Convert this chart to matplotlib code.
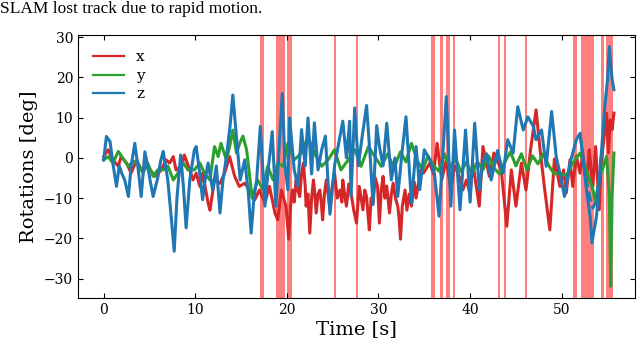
import matplotlib
matplotlib.use('Agg')
import matplotlib.pyplot as plt

# rotation about x (red)
x_t = [0.0, 0.5, 1.0, 1.6, 1.9, 2.5, 3.0, 3.6, 4.1, 4.8, 5.6, 6.3, 6.8, 7.2, 7.6, 7.9,
       8.5, 8.8, 9.4, 9.75, 10.1, 10.5, 10.8, 11.4, 11.6, 12.1, 12.7, 13.2, 13.75, 14.3,
       14.8, 15.4, 15.9, 16.5, 17.0, 17.6, 18.1, 18.7, 19.0, 19.4, 19.9, 20.2, 20.4, 20.6,
       20.8, 21.0, 21.2, 21.4, 21.6, 21.8, 22.0, 22.1, 22.3, 22.5, 22.7, 22.9, 23.05, 23.2,
       23.4, 23.6, 23.75, 23.9, 24.1, 24.3, 24.5, 24.7, 24.95, 25.2, 25.5, 25.8, 26.0, 26.1,
       26.3, 26.5, 26.75, 27.0, 27.3, 27.6, 27.9, 28.1, 28.3, 28.5, 28.7, 28.85, 29.0, 29.2,
       29.4, 29.65, 29.9, 30.1, 30.3, 30.5, 30.7, 30.9, 31.2, 31.4, 31.6, 31.85, 32.1, 32.25,
       32.4, 32.6, 32.9, 33.1, 33.35, 33.6, 33.9, 34.1, 34.3, 34.6, 34.9, 35.6, 36.0, 36.4,
       36.9, 37.4, 37.9, 38.3, 38.7, 39.2, 39.6, 40.0, 40.3, 40.6, 41.0, 41.4, 42.1, 42.6,
       43.4, 44.0, 44.5, 45.0, 45.6, 46.1, 46.6, 47.2, 47.6, 48.1, 48.7, 49.2, 49.8, 50.2,
       50.5, 50.9, 51.2, 51.6, 52.0, 52.3, 52.7, 53.0, 53.4, 53.7, 54.1, 54.3, 54.6, 54.9,
       55.1, 55.3, 55.5, 55.7]
x_deg = [0.3, 2.0, -0.5, -2.1, 0.3, -1.3, -3.8, -0.5, -3.0, -2.1, -4.6, -3.0, -0.5, -1.3, 0.3, -3.0,
         -2.1, 0.7, -3.0, -5.5, -3.8, -7.1, -3.8, -11.2, -13.0, -5.5, -6.3, -3.8, 0.3, -4.6,
         -7.1, -6.3, -8.0, -10.4, -8.0, -11.2, -7.1, -13.7, -15.4, -8.0, -12.0, -20.2, -12.0, -8.0,
         -11.0, -5.5, -8.0, -9.6, -4.0, -1.3, -7.0, -12.0, -9.0, -18.7, -10.0, -5.5, -9.0, -13.7,
         -9.0, -8.0, -11.0, -15.4, -9.0, -5.5, -9.0, -12.9, -7.0, -3.8, -10.0, -8.0, -11.0, -5.5,
         -9.0, -12.0, -6.5, -8.7, -13.0, -16.2, -7.1, -10.0, -12.9, -8.0, -9.6, -14.0, -17.9, -10.0,
         -11.2, -5.0, -7.1, -16.2, -8.0, -4.6, -10.0, -7.0, -13.7, -9.0, -6.3, -10.0, -12.0, -15.0,
         -20.2, -12.0, -8.0, -13.0, -9.0, -12.0, -6.0, -10.0, -7.1, -3.0, -3.8, -1.3, -4.0, 3.6,
         -5.5, -0.5, -7.9, -2.0, -3.8, -8.0, -5.5, -9.0, -1.3, -6.0, -12.0, 2.8, -4.6, 1.2,
         -3.0, -17.0, -3.0, -12.0, -1.3, -8.0, 2.0, 11.9, 2.8, -7.1, -17.9, -0.3, -7.1, -3.0,
         -8.7, -0.5, -7.1, 0.4, -3.8, 1.2, -7.1, 2.0, -7.1, 2.8, -12.9, -1.3, 4.5, 11.1,
         1.2, 9.4, 7.0, 11.1]

# rotation about y (green)
y_t = [0.0, 0.5, 1.0, 1.6, 2.1, 2.7, 3.2, 3.7, 4.3, 4.8, 5.4, 5.9, 6.5, 7.0, 7.6, 8.1,
       8.7, 9.2, 9.9, 10.5, 11.0, 11.6, 12.1, 12.5, 12.8, 13.4, 13.75, 14.1, 14.5, 14.85,
       15.2, 15.6, 15.9, 16.2, 16.8, 17.4, 17.9, 18.5, 19.0, 19.6, 20.1, 20.8, 21.6, 22.3,
       23.0, 23.8, 24.5, 25.2, 25.9, 26.7, 27.4, 28.1, 28.9, 29.6, 30.3, 31.0, 31.7, 32.4,
       33.0, 33.6, 34.2, 34.8, 35.4, 36.0, 36.6, 37.2, 37.8, 38.4, 39.0, 39.6, 40.2, 40.8,
       41.4, 42.0, 42.6, 43.2, 43.8, 44.4, 45.0, 45.6, 46.2, 46.8, 47.4, 48.0, 48.6, 49.2,
       49.8, 50.5, 51.2, 52.0, 52.7, 53.4, 53.7, 54.1, 54.5, 54.9, 55.2, 55.35, 55.5, 55.7]
y_deg = [-0.5, 0.3, -1.3, 1.6, -0.1, -2.1, -0.9, -1.3, -3.8, -1.3, -4.6, -3.0, -3.0, -2.0, -5.5, -3.8,
         -1.3, -3.0, -3.0, -1.3, -3.8, -5.5, 2.8, 0.3, 3.6, -0.5, 2.8, 6.9, 1.2, 3.6,
         5.4, 2.0, -3.8, -10.0, -5.5, -7.9, -2.1, -5.5, -1.3, -2.1, 3.6, -0.5, 1.2, 5.3,
         1.2, -2.1, -0.5, 2.0, -3.0, -0.5, 2.0, -2.1, 2.8, 0.3, -2.1, 1.0, -2.5, 1.5,
         -1.0, 3.6, -0.5, -3.0, 0.5, -2.0, -3.3, 1.0, -2.5, 0.0, -3.5, -1.0, -4.0, -1.0,
         -3.0, 0.5, -2.5, -4.0, -1.0, 1.5, -2.0, 1.0, -3.0, 0.5, -1.5, 1.0, -2.0, -4.0,
         -3.8, -4.5, -1.3, 1.2, -3.0, -7.9, -11.2, -5.0, -2.5, 0.4, -9.6, -31.9, -9.6, 1.2]

# rotation about z (blue)
z_t = [0.0, 0.3, 0.7, 1.0, 1.4, 1.7, 2.0, 2.3, 2.7, 3.0, 3.4, 3.7, 4.1, 4.5, 4.8, 5.1,
       5.4, 5.9, 6.2, 6.5, 7.0, 7.4, 7.7, 8.0, 8.4, 8.7, 9.0, 9.4, 9.9, 10.1, 10.5, 10.8,
       11.1, 11.4, 11.9, 12.3, 12.7, 13.0, 13.4, 13.8, 14.1, 14.5, 14.9, 15.4, 15.8, 16.1,
       16.4, 16.7, 17.1, 17.6, 18.0, 18.4, 18.8, 19.2, 19.5, 19.8, 20.1, 20.3, 20.8, 21.2,
       21.6, 22.0, 22.3, 22.7, 23.0, 23.4, 23.8, 24.2, 24.7, 25.2, 25.6, 26.1, 26.5, 26.85,
       27.0, 27.4, 27.8, 28.2, 28.7, 29.1, 29.4, 29.8, 30.1, 30.5, 30.9, 31.4, 31.8, 32.1,
       32.6, 33.0, 33.6, 34.1, 34.5, 35.0, 35.6, 36.1, 36.6, 37.0, 37.4, 37.9, 38.3, 38.9,
       39.5, 40.0, 40.5, 41.0, 41.4, 41.8, 42.3, 43.0, 43.6, 44.1, 44.7, 45.2, 45.8, 46.3,
       46.9, 47.2, 47.8, 48.3, 48.9, 49.4, 49.8, 50.3, 50.9, 51.6, 52.0, 52.3, 52.7, 53.1,
       53.3, 53.8, 54.3, 54.7, 55.0, 55.2, 55.5, 55.7]
z_deg = [-0.5, 5.3, 4.0, -1.3, -7.1, -2.0, -4.0, -5.5, -9.6, -2.0, 3.6, -1.5, -9.6, 1.5, -2.0, -6.0,
         -9.6, -5.0, -1.0, 1.6, -5.5, -15.4, -23.2, -10.0, 0.7, -7.0, -17.4, -5.5, 2.0, 2.8, -4.0, -10.4,
         -5.0, -1.3, -8.0, -2.0, -13.7, -6.0, 0.3, 8.0, 15.6, 5.0, -5.5, -0.5, -9.0, -18.7,
         -10.0, -5.5, 7.8, -12.0, -2.0, 6.5, -12.0, 4.5, 16.0, -2.0, -7.9, 9.9, -3.0, -7.0,
         7.0, -2.0, 9.9, -4.0, 8.7, -3.0, 2.0, 5.4, -14.0, -2.0, 3.0, 9.1, 0.0, 9.1,
         -9.6, 12.4, -2.0, 5.0, 13.0, 0.0, -11.6, 8.0, 2.8, -2.0, 8.6, -5.5, 0.0, -9.6,
         2.0, 10.2, -11.2, 2.8, -7.9, 2.0, -0.5, -3.8, -14.5, 0.0, 15.2, -12.0, 6.9, -12.9,
         6.9, -11.0, 8.6, -7.9, -1.0, 1.0, -5.5, 1.8, -3.8, 4.5, 1.2, 12.7, 6.9, 10.2,
         7.8, 4.5, 6.9, -2.1, 11.5, 0.3, -3.8, -9.6, -1.3, 4.5, 6.1, 0.4, -7.9, -14.5,
         -21.1, -14.5, 0.4, 12.7, 19.4, 27.6, 19.4, 16.9]

# estimated z where it leaves the ground truth (dashed)
z_est_t = [52.0, 52.3, 52.7, 53.1, 53.4, 53.7, 54.0, 54.3]
z_est = [6.1, 0.4, -6.0, -10.0, -12.5, -11.0, -6.0, 0.4]

# intervals where SLAM lost track
lost_start = [17.1, 18.85, 20.0, 25.1, 27.5, 35.76, 36.67, 37.4, 38.13, 43.07, 43.66,
              45.95, 51.22, 52.06, 53.3, 54.24, 54.78]
lost_end = [17.5, 19.8, 20.55, 25.35, 27.72, 36.2, 37.07, 37.84, 38.38, 43.29, 43.87,
            46.16, 51.66, 53.26, 53.47, 54.64, 55.58]

plt.rcParams['font.family'] = 'DejaVu Serif'

fig = plt.figure(figsize=(6.4, 3.42), dpi=100)
ax = fig.add_axes([0.1219, 0.1287, 0.8703, 0.769])

for s, e in zip(lost_start, lost_end):
    ax.axvspan(s, e, color='red', alpha=0.5, lw=0, zorder=0)

ax.plot(x_t, x_deg, color='#d62728', lw=2.2, label='x')
ax.plot(y_t, y_deg, color='#2ca02c', lw=2.2, label='y')
ax.plot(z_t, z_deg, color='#1f77b4', lw=2.2, label='z')
ax.plot(z_est_t, z_est, color='#1f77b4', lw=2.0, ls='--')

ax.set_xlim(-2.8, 58.0)
ax.set_ylim(-34.8, 30.5)
ax.set_xticks([0, 10, 20, 30, 40, 50])
ax.set_yticks([-30, -20, -10, 0, 10, 20, 30])
ax.tick_params(direction='in', top=True, right=True, labelsize=10)
ax.set_xlabel('Time [s]', fontsize=14, labelpad=2)
ax.set_ylabel('Rotations [deg]', fontsize=14, labelpad=4)

leg = ax.legend(loc='upper left', frameon=False, fontsize=11, labelspacing=0.3,
                borderaxespad=0.6)
for line in leg.get_lines():
    line.set_linewidth(1.6)

fig.text(0.0, 0.962, 'SLAM lost track due to rapid motion.', family='Liberation Serif',
         fontsize=12.5, va='baseline', ha='left')

fig.savefig('out.png', dpi=100)
